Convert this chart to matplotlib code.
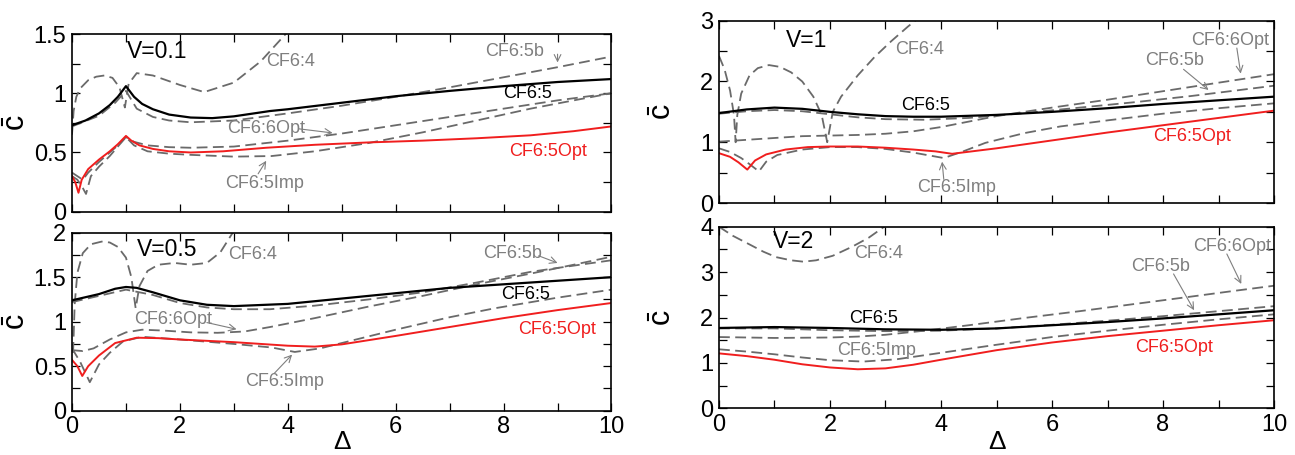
import matplotlib
matplotlib.use('Agg')
import matplotlib.pyplot as plt
from matplotlib.ticker import MultipleLocator, FuncFormatter

plt.rcParams['font.family'] = ['Liberation Sans', 'DejaVu Sans']
plt.rcParams['mathtext.fontset'] = 'custom'
plt.rcParams['mathtext.rm'] = 'Liberation Sans'
plt.rcParams['mathtext.it'] = 'Liberation Sans'

# ---- V = 0.1 ----
v01_cf4_x = [0, 0.03, 0.08, 0.15, 0.3, 0.45, 0.6, 0.75, 0.88, 0.98, 1.05, 1.2, 1.5, 2.0, 2.45, 3.0, 3.5, 4.0]
v01_cf4_y = [0.65, 0.85, 0.97, 1.04, 1.11, 1.14, 1.15, 1.13, 1.05, 0.88, 1.08, 1.17, 1.15, 1.07, 1.01, 1.09, 1.27, 1.52]
v01_cf5b_x = [0, 0.5, 0.8, 1.0, 1.2, 1.5, 1.8, 2.2, 3, 3.67, 4, 5, 6, 7, 8, 9, 10]
v01_cf5b_y = [0.72, 0.81, 0.92, 1.02, 0.87, 0.8, 0.77, 0.755, 0.77, 0.81, 0.83, 0.895, 0.97, 1.05, 1.135, 1.22, 1.31]
v01_cf66_x = [0, 0.1, 0.2, 0.3, 0.5, 0.7, 0.85, 1.0, 1.15, 1.4, 1.8, 2.2, 3, 4, 5, 6, 7, 8, 9, 10]
v01_cf66_y = [0.33, 0.3, 0.27, 0.33, 0.42, 0.5, 0.56, 0.63, 0.59, 0.56, 0.545, 0.54, 0.55, 0.6, 0.66, 0.73, 0.8, 0.87, 0.94, 1.0]
v01_cf5imp_x = [0, 0.1, 0.2, 0.26, 0.35, 0.5, 0.7, 0.85, 1.0, 1.15, 1.4, 1.8, 2.2, 3, 3.7, 4.5, 5.5, 6.5, 7.5, 8.5, 9.3, 10]
v01_cf5imp_y = [0.3, 0.27, 0.2, 0.15, 0.3, 0.38, 0.47, 0.55, 0.63, 0.56, 0.51, 0.49, 0.48, 0.465, 0.47, 0.51, 0.58, 0.67, 0.77, 0.87, 0.94, 1.0]
v01_cf5_x = [0, 0.25, 0.5, 0.7, 0.85, 0.95, 1.0, 1.05, 1.15, 1.3, 1.5, 1.8, 2.2, 2.6, 3, 3.67, 4, 5, 6, 7, 8, 9, 10]
v01_cf5_y = [0.73, 0.77, 0.83, 0.9, 0.97, 1.03, 1.06, 1.03, 0.97, 0.91, 0.865, 0.82, 0.795, 0.79, 0.805, 0.85, 0.865, 0.92, 0.975, 1.02, 1.06, 1.095, 1.12]
v01_cf5opt_x = [0, 0.06, 0.12, 0.18, 0.3, 0.5, 0.7, 0.85, 1.0, 1.1, 1.25, 1.5, 1.8, 2.2, 2.8, 3.6, 4.5, 5.5, 6.5, 7.5, 8.5, 9.3, 10]
v01_cf5opt_y = [0.3, 0.25, 0.16, 0.27, 0.36, 0.44, 0.51, 0.57, 0.64, 0.6, 0.56, 0.53, 0.51, 0.5, 0.51, 0.54, 0.565, 0.585, 0.6, 0.62, 0.645, 0.68, 0.72]

# ---- V = 0.5 ----
v05_cf4_x = [0.02, 0.05, 0.1, 0.2, 0.35, 0.55, 0.7, 0.85, 1.0, 1.1, 1.18, 1.25, 1.4, 1.6, 1.9, 2.2, 2.5, 2.75, 3.0]
v05_cf4_y = [0.65, 1.2, 1.55, 1.77, 1.87, 1.9, 1.89, 1.84, 1.72, 1.5, 1.15, 1.4, 1.57, 1.64, 1.66, 1.64, 1.66, 1.78, 2.02]
v05_cf5b_x = [0, 0.5, 1, 1.5, 2, 2.5, 3, 3.67, 4.5, 5.5, 6.5, 7.5, 8.5, 9.3, 10]
v05_cf5b_y = [1.22, 1.29, 1.36, 1.3, 1.21, 1.16, 1.14, 1.14, 1.18, 1.25, 1.33, 1.44, 1.56, 1.63, 1.69]
v05_cf66_x = [0, 0.2, 0.4, 0.7, 1.0, 1.3, 1.7, 2.2, 2.7, 3.2, 3.67, 4.5, 5.5, 6.5, 7.5, 8.5, 9.3, 10]
v05_cf66_y = [0.68, 0.67, 0.7, 0.8, 0.88, 0.91, 0.9, 0.88, 0.875, 0.89, 0.94, 1.04, 1.17, 1.29, 1.42, 1.54, 1.64, 1.73]
v05_cf5imp_x = [0, 0.15, 0.33, 0.5, 0.7, 0.95, 1.3, 2, 3, 3.7, 4.13, 4.6, 5, 6, 7, 7.83, 9, 10]
v05_cf5imp_y = [0.7, 0.55, 0.32, 0.52, 0.65, 0.78, 0.83, 0.8, 0.75, 0.71, 0.66, 0.7, 0.76, 0.91, 1.05, 1.15, 1.27, 1.36]
v05_cf5_x = [0, 0.5, 0.8, 1.0, 1.2, 1.5, 2, 2.5, 3, 4, 5, 6, 7, 8, 9, 10]
v05_cf5_y = [1.24, 1.31, 1.37, 1.39, 1.38, 1.33, 1.24, 1.19, 1.175, 1.2, 1.26, 1.32, 1.38, 1.42, 1.46, 1.5]
v05_cf5opt_x = [0, 0.1, 0.19, 0.3, 0.5, 0.8, 1.2, 1.6, 2, 3, 4, 4.5, 5, 6, 7, 8, 9, 10]
v05_cf5opt_y = [0.57, 0.5, 0.39, 0.5, 0.62, 0.76, 0.82, 0.815, 0.8, 0.77, 0.73, 0.72, 0.745, 0.84, 0.94, 1.04, 1.13, 1.21]

# ---- V = 1 ----
v1_cf4_x = [0, 0.1, 0.2, 0.27, 0.3, 0.33, 0.4, 0.55, 0.7, 0.9, 1.1, 1.3, 1.5, 1.7, 1.85, 1.95, 2.05, 2.2, 2.5, 2.8, 3.1, 3.4, 3.6]
v1_cf4_y = [2.42, 2.2, 1.85, 1.45, 1.0, 1.45, 1.8, 2.1, 2.22, 2.27, 2.24, 2.15, 2.0, 1.75, 1.45, 1.0, 1.5, 1.75, 2.1, 2.4, 2.66, 2.9, 3.05]
v1_cf5b_x = [0, 0.5, 1, 1.5, 2, 2.5, 3, 3.7, 4.5, 5.5, 6.5, 7.5, 8.5, 9.3, 10]
v1_cf5b_y = [1.47, 1.51, 1.53, 1.51, 1.46, 1.41, 1.38, 1.37, 1.4, 1.48, 1.57, 1.66, 1.76, 1.85, 1.93]
v1_cf66_x = [0, 0.5, 1, 1.5, 2, 2.5, 3, 3.5, 4, 4.5, 5, 6, 7, 8, 9, 10]
v1_cf66_y = [1.01, 1.04, 1.07, 1.1, 1.11, 1.12, 1.14, 1.18, 1.25, 1.34, 1.43, 1.57, 1.7, 1.84, 1.98, 2.12]
v1_cf5imp_x = [0, 0.2, 0.4, 0.55, 0.72, 0.85, 1.05, 1.5, 2, 2.5, 3, 3.5, 4.05, 4.4, 4.8, 5.5, 6.15, 7, 8, 9, 10]
v1_cf5imp_y = [0.9, 0.84, 0.74, 0.64, 0.52, 0.68, 0.79, 0.88, 0.92, 0.92, 0.89, 0.83, 0.74, 0.85, 0.99, 1.15, 1.26, 1.36, 1.47, 1.56, 1.64]
v1_cf5_x = [0, 0.5, 1, 1.5, 2, 2.5, 3, 3.5, 4, 5, 6, 7, 8, 9, 10]
v1_cf5_y = [1.48, 1.54, 1.57, 1.55, 1.5, 1.46, 1.43, 1.42, 1.42, 1.45, 1.5, 1.56, 1.63, 1.69, 1.75]
v1_cf5opt_x = [0, 0.2, 0.35, 0.51, 0.65, 0.85, 1.2, 1.6, 2, 2.5, 3, 3.5, 3.9, 4.2, 5, 6, 7, 8, 9, 10]
v1_cf5opt_y = [0.82, 0.76, 0.67, 0.55, 0.7, 0.8, 0.88, 0.92, 0.93, 0.93, 0.91, 0.88, 0.85, 0.81, 0.9, 1.03, 1.16, 1.28, 1.4, 1.52]

# ---- V = 2 ----
v2_cf4_x = [0, 0.25, 0.55, 0.8, 1.03, 1.3, 1.52, 1.75, 2.05, 2.4, 2.7, 3.0]
v2_cf4_y = [4.0, 3.8, 3.61, 3.45, 3.33, 3.26, 3.23, 3.26, 3.36, 3.56, 3.76, 4.02]
v2_cf5b_x = [0, 1, 2, 3, 4, 5, 6, 7, 8, 9, 10]
v2_cf5b_y = [1.76, 1.76, 1.72, 1.7, 1.71, 1.76, 1.84, 1.93, 2.03, 2.14, 2.25]
v2_cf66_x = [0, 1, 2, 2.5, 3, 3.7, 4.5, 5.5, 6.5, 7.5, 8.5, 9.3, 10]
v2_cf66_y = [1.57, 1.55, 1.56, 1.58, 1.62, 1.71, 1.83, 1.99, 2.14, 2.3, 2.46, 2.59, 2.7]
v2_cf5imp_x = [0, 0.5, 1, 1.5, 2, 2.6, 3.2, 3.93, 5, 6, 7, 8, 9, 10]
v2_cf5imp_y = [1.3, 1.25, 1.19, 1.12, 1.06, 1.03, 1.08, 1.21, 1.4, 1.57, 1.71, 1.84, 1.96, 2.07]
v2_cf5_x = [0, 1, 2, 3, 4, 5, 6, 7, 8, 9, 10]
v2_cf5_y = [1.77, 1.79, 1.77, 1.74, 1.73, 1.76, 1.83, 1.9, 1.98, 2.07, 2.16]
v2_cf5opt_x = [0, 0.5, 1, 1.5, 2, 2.5, 3, 3.5, 4, 5, 6, 7, 8, 9, 10]
v2_cf5opt_y = [1.21, 1.15, 1.07, 0.97, 0.9, 0.86, 0.88, 0.96, 1.07, 1.28, 1.45, 1.59, 1.71, 1.83, 1.94]

GRAY = '#6a6a6a'
TGRAY = '#7f7f7f'
RED = '#f01e1e'


def draw_panel(ax, dashed, cf5, cf5opt, ymax, ystep, ylab):
    for xs, ys in dashed:
        ax.plot(xs, ys, color=GRAY, lw=1.3, dashes=(6, 3))
    ax.plot(cf5[0], cf5[1], color='black', lw=1.6)
    ax.plot(cf5opt[0], cf5opt[1], color=RED, lw=1.4)
    ax.set_xlim(0, 10)
    ax.set_ylim(0, ymax)
    ax.xaxis.set_major_locator(MultipleLocator(2))
    ax.xaxis.set_minor_locator(MultipleLocator(1))
    ax.yaxis.set_major_locator(MultipleLocator(ylab))
    ax.yaxis.set_minor_locator(MultipleLocator(ystep))
    fmt = FuncFormatter(lambda v, p: f'{v:g}')
    ax.xaxis.set_major_formatter(fmt)
    ax.yaxis.set_major_formatter(fmt)
    ax.tick_params(which='both', direction='in', top=True, right=True,
                   length=5.5, width=0.9, labelsize=17, pad=4)
    for s in ax.spines.values():
        s.set_linewidth(1.2)
    ax.set_ylabel(r'$\bar{\mathrm{c}}$', fontsize=22)


def label(ax, txt, pos, color=TGRAY, tail=None, tip=None, size=13):
    ax.text(pos[0], pos[1], txt, color=color, fontsize=size, ha='left', va='center')
    if tip is not None:
        ax.annotate('', xy=tip, xytext=tail,
                    arrowprops=dict(arrowstyle='->', color=TGRAY, lw=0.8,
                                    shrinkA=0, shrinkB=0, mutation_scale=12))


fig = plt.figure(figsize=(12.95, 4.55), dpi=100)
ax1 = fig.add_axes([0.0556, 0.5347, 0.4166, 0.3905])
ax2 = fig.add_axes([0.0556, 0.0974, 0.4166, 0.3912])
ax3 = fig.add_axes([0.5552, 0.5538, 0.4286, 0.4007])
ax4 = fig.add_axes([0.5552, 0.1026, 0.4286, 0.3991])

draw_panel(ax1, [(v01_cf4_x, v01_cf4_y), (v01_cf5b_x, v01_cf5b_y),
                 (v01_cf66_x, v01_cf66_y), (v01_cf5imp_x, v01_cf5imp_y)],
           (v01_cf5_x, v01_cf5_y), (v01_cf5opt_x, v01_cf5opt_y), 1.5, 0.25, 0.5)
draw_panel(ax2, [(v05_cf4_x, v05_cf4_y), (v05_cf5b_x, v05_cf5b_y),
                 (v05_cf66_x, v05_cf66_y), (v05_cf5imp_x, v05_cf5imp_y)],
           (v05_cf5_x, v05_cf5_y), (v05_cf5opt_x, v05_cf5opt_y), 2, 0.25, 0.5)
draw_panel(ax3, [(v1_cf4_x, v1_cf4_y), (v1_cf5b_x, v1_cf5b_y),
                 (v1_cf66_x, v1_cf66_y), (v1_cf5imp_x, v1_cf5imp_y)],
           (v1_cf5_x, v1_cf5_y), (v1_cf5opt_x, v1_cf5opt_y), 3, 0.5, 1)
draw_panel(ax4, [(v2_cf4_x, v2_cf4_y), (v2_cf5b_x, v2_cf5b_y),
                 (v2_cf66_x, v2_cf66_y), (v2_cf5imp_x, v2_cf5imp_y)],
           (v2_cf5_x, v2_cf5_y), (v2_cf5opt_x, v2_cf5opt_y), 4, 0.5, 1)

for ax in (ax1, ax3):
    ax.tick_params(labelbottom=False)
for ax in (ax1, ax2):
    ax.yaxis.set_label_coords(-0.075, 0.5)
for ax in (ax3, ax4):
    ax.yaxis.set_label_coords(-0.073, 0.5)
ax2.set_xlabel('Δ', fontsize=19, va='bottom')
ax2.xaxis.set_label_coords(0.5, -0.243)
ax4.set_xlabel('Δ', fontsize=19, va='bottom')
ax4.xaxis.set_label_coords(0.5, -0.251)

# V = 0.1 labels
ax1.text(1.02, 1.35, 'V=0.1', fontsize=16.5, va='center')
label(ax1, 'CF6:4', (3.6, 1.27))
label(ax1, 'CF6:5b', (7.65, 1.35), tail=(9.0, 1.33), tip=(9.0, 1.26))
label(ax1, 'CF6:5', (8.0, 1.0), color='black')
label(ax1, 'CF6:6Opt', (2.87, 0.70), tail=(4.2, 0.70), tip=(4.83, 0.665))
label(ax1, 'CF6:5Opt', (8.1, 0.51), color=RED)
label(ax1, 'CF6:5Imp', (2.83, 0.24), tail=(3.45, 0.32), tip=(3.6, 0.43))

# V = 0.5 labels
ax2.text(1.2, 1.81, 'V=0.5', fontsize=16.5, va='center')
label(ax2, 'CF6:4', (2.89, 1.76))
label(ax2, 'CF6:5b', (7.62, 1.77), tail=(8.65, 1.74), tip=(9.0, 1.66))
label(ax2, 'CF6:5', (7.96, 1.31), color='black')
label(ax2, 'CF6:6Opt', (1.16, 1.03), tail=(2.5, 0.99), tip=(3.05, 0.915))
label(ax2, 'CF6:5Opt', (8.27, 0.91), color=RED)
label(ax2, 'CF6:5Imp', (3.2, 0.33), tail=(3.75, 0.42), tip=(4.08, 0.63))

# V = 1 labels
ax3.text(1.2, 2.67, 'V=1', fontsize=16.5, va='center')
label(ax3, 'CF6:4', (3.18, 2.52))
label(ax3, 'CF6:6Opt', (8.5, 2.68), tail=(9.33, 2.55), tip=(9.4, 2.13))
label(ax3, 'CF6:5b', (7.67, 2.34), tail=(8.37, 2.2), tip=(8.82, 1.86))
label(ax3, 'CF6:5', (3.28, 1.61), color='black')
label(ax3, 'CF6:5Opt', (7.82, 1.09), color=RED)
label(ax3, 'CF6:5Imp', (3.57, 0.25), tail=(4.05, 0.39), tip=(4.02, 0.68))

# V = 2 labels
ax4.text(0.98, 3.67, 'V=2', fontsize=16.5, va='center')
label(ax4, 'CF6:4', (2.43, 3.41))
label(ax4, 'CF6:6Opt', (8.54, 3.56), tail=(9.15, 3.4), tip=(9.41, 2.74))
label(ax4, 'CF6:5b', (7.43, 3.12), tail=(8.19, 2.96), tip=(8.56, 2.16))
label(ax4, 'CF6:5', (2.34, 1.98), color='black')
label(ax4, 'CF6:5Opt', (7.49, 1.34), color=RED)
label(ax4, 'CF6:5Imp', (2.12, 1.28))

fig.savefig('out.png', dpi=100)
